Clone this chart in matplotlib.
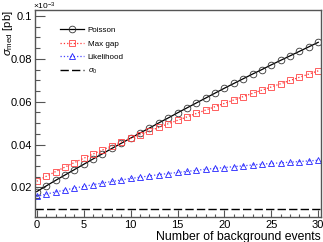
import matplotlib

matplotlib.use("Agg")

import matplotlib.pyplot as plt
from matplotlib.ticker import FixedLocator, MultipleLocator, FuncFormatter

plt.rcParams["font.family"] = ["Liberation Sans", "DejaVu Sans"]
plt.rcParams["mathtext.fontset"] = "custom"
plt.rcParams["mathtext.rm"] = "Liberation Sans"
plt.rcParams["mathtext.it"] = "Liberation Sans:italic"

n_bkg = list(range(31))

poisson = [0.0181, 0.0207, 0.0233, 0.0258, 0.0283, 0.0308, 0.0333, 0.0357, 0.0382, 0.0406,
           0.0430, 0.0454, 0.0477, 0.0501, 0.0524, 0.0548, 0.0571, 0.0594, 0.0617, 0.0640,
           0.0663, 0.0685, 0.0707, 0.0729, 0.0750, 0.0772, 0.0793, 0.0814, 0.0835, 0.0856,
           0.0877]
max_gap = [0.0229, 0.0252, 0.0274, 0.0295, 0.0316, 0.0336, 0.0356, 0.0375, 0.0394, 0.0412,
           0.0429, 0.0446, 0.0463, 0.0480, 0.0497, 0.0513, 0.0529, 0.0545, 0.0561, 0.0577,
           0.0592, 0.0608, 0.0624, 0.0639, 0.0654, 0.0669, 0.0684, 0.0699, 0.0714, 0.0729,
           0.0744]
likelihood = [0.0158, 0.0169, 0.0179, 0.0188, 0.0197, 0.0205, 0.0213, 0.0221, 0.0228, 0.0235,
              0.0242, 0.0248, 0.0254, 0.0260, 0.0265, 0.0270, 0.0275, 0.0280, 0.0285, 0.0289,
              0.0293, 0.0297, 0.0301, 0.0305, 0.0309, 0.0312, 0.0315, 0.0318, 0.0321, 0.0324,
              0.0327]
sigma0 = 0.01

y_ticks = [0.02, 0.04, 0.06, 0.08, 0.1]

fig = plt.figure(figsize=(3.23, 2.42), dpi=100)
ax = fig.add_axes([0.108, 0.103, 0.886, 0.856])

ax.plot(n_bkg, poisson, color="black", lw=0.9, marker="o", ms=4.8, mfc="none",
        mec="#333333", mew=0.6, label="Poisson")
ax.plot(n_bkg, max_gap, color="#ff3333", lw=0.9, ls=":", marker="s", ms=4.8, mfc="none",
        mec="#ff4444", mew=0.6, label="Max gap")
ax.plot(n_bkg, likelihood, color="#4444ff", lw=0.9, ls=":", marker="^", ms=4.8, mfc="none",
        mec="#2222ff", mew=0.6, label="Likelihood")
ax.axhline(sigma0, color="black", lw=1.0, ls=(0, (6, 2.3)), label=r"$\sigma_0$")

ax.set_xlim(-0.2, 30.3)
ax.set_ylim(0.0062, 0.1028)

ax.xaxis.set_major_locator(MultipleLocator(5))
ax.xaxis.set_minor_locator(MultipleLocator(1))
ax.yaxis.set_major_locator(FixedLocator(y_ticks))
ax.yaxis.set_minor_locator(MultipleLocator(0.005))
ax.yaxis.set_major_formatter(FuncFormatter(lambda v, p: f"{v:g}"))
ax.tick_params(which="both", direction="in", top=False, right=False, labelsize=8,
               color="#555555", width=0.8)
ax.tick_params(axis="y", which="major", length=7)
ax.tick_params(axis="y", which="minor", length=3.5)
ax.tick_params(axis="x", which="major", length=5)
ax.tick_params(axis="x", which="minor", length=2.5)
ax.tick_params(axis="x", pad=2)
ax.tick_params(axis="y", pad=2)
for sp in ax.spines.values():
    sp.set_color("#555555")
    sp.set_linewidth(1.0)

ax.set_xlabel("Number of background events", fontsize=8.8, loc="right", labelpad=1)
ax.set_ylabel(r"$\sigma_{\rm med}$ [pb]", fontsize=8.2, loc="top")
ax.yaxis.set_label_coords(-0.068, 1.0)
fig.text(0.102, 0.997, r"$\times10^{-3}$", fontsize=6, ha="left", va="top")

ax.legend(loc="upper left", bbox_to_anchor=(0.075, 0.935), frameon=False, fontsize=5.8,
          handlelength=3.0, handletextpad=0.5, labelspacing=0.7, borderaxespad=0)

fig.savefig("out.png", dpi=100)
